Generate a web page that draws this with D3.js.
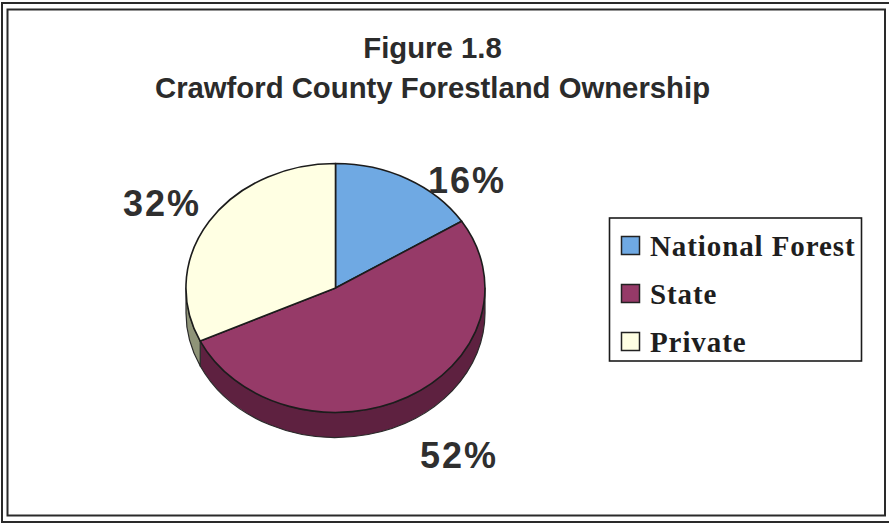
<!DOCTYPE html>
<html>
<head>
<meta charset="utf-8">
<script src="https://cdnjs.cloudflare.com/ajax/libs/d3/7.8.5/d3.min.js"></script>
<style>
  html, body { margin: 0; padding: 0; background: #fff; }
  svg { display: block; }
</style>
</head>
<body>
<svg id="chart" width="889" height="525"></svg>
<script>
const titleLines = ["Figure 1.8", "Crawford County Forestland Ownership"];
const categories = ["National Forest", "State", "Private"];
const shares = [16, 52, 32];
const topColors = ["#6fa9e3", "#963a68", "#ffffe3"];
const wallColors = ["#3d5c80", "#5e2140", "#8f9478"];

const width = 889, height = 525;
const cx = 335.5, cy = 288, rx = 149.5, ry = 124.5, depth = 25;

const svg = d3.select("#chart");

// Double-ruled page frame
const frame = svg.append("g").attr("fill", "none").attr("stroke", "#2a2a2a");
frame.append("rect").attr("x", 2).attr("y", 3).attr("width", width + 6).attr("height", 519).attr("stroke-width", 2);
frame.append("rect").attr("x", 7.5).attr("y", 9.5).attr("width", 877.5).attr("height", 506).attr("stroke-width", 2);

// Title
svg.append("g").selectAll("text").data(titleLines).join("text")
  .attr("x", 432.5)
  .attr("y", (d, i) => 58 + i * 39.5)
  .attr("text-anchor", "middle")
  .attr("font-family", "Liberation Sans")
  .attr("font-weight", "bold")
  .attr("font-size", 29.3)
  .attr("fill", "#2b2b2b")
  .text(d => d);

// Pie angles, clockwise from twelve o'clock
const arcs = d3.pie().sort(null)(shares);
const px = a => cx + rx * Math.sin(a);
const py = (a, dy = 0) => cy + dy - ry * Math.cos(a);

// Extruded wall: only the part of each slice facing the viewer
const pieChart = svg.append("g").attr("stroke-linejoin", "round");
function wallPath(d) {
  const a0 = Math.max(d.startAngle, Math.PI / 2);
  const a1 = Math.min(d.endAngle, 3 * Math.PI / 2);
  if (a1 <= a0) return null;
  const large = a1 - a0 > Math.PI ? 1 : 0;
  return `M${px(a0)},${py(a0)}` +
    `A${rx},${ry} 0 ${large} 1 ${px(a1)},${py(a1)}` +
    `L${px(a1)},${py(a1, depth)}` +
    `A${rx},${ry} 0 ${large} 0 ${px(a0)},${py(a0, depth)}Z`;
}
pieChart.append("g").selectAll("path").data(arcs).join("path")
  .attr("d", wallPath)
  .attr("fill", (d, i) => wallColors[i])
  .attr("stroke", "#2a2a2a")
  .attr("stroke-width", 1.2);

// Top face: a unit-radius pie squashed into an ellipse
const arcGen = d3.arc().innerRadius(0).outerRadius(1);
pieChart.append("g")
  .attr("transform", `translate(${cx},${cy}) scale(${rx},${ry})`)
  .selectAll("path").data(arcs).join("path")
  .attr("d", arcGen)
  .attr("fill", (d, i) => topColors[i])
  .attr("stroke", "#1c1c1c")
  .attr("stroke-width", 1.6)
  .attr("vector-effect", "non-scaling-stroke");

// Percentage labels sit around the pie
const labelAnchor = [[467, 193], [459, 468], [162, 216]];
svg.append("g").selectAll("text").data(shares).join("text")
  .attr("x", (d, i) => labelAnchor[i][0])
  .attr("y", (d, i) => labelAnchor[i][1])
  .attr("text-anchor", "middle")
  .attr("font-family", "Liberation Sans")
  .attr("font-weight", "bold")
  .attr("font-size", 36)
  .attr("letter-spacing", 2)
  .attr("fill", "#2f2f2f")
  .text(d => d + "%");

// Legend
const legend = svg.append("g");
legend.append("rect")
  .attr("x", 609.5).attr("y", 218).attr("width", 252).attr("height", 143)
  .attr("fill", "#fff").attr("stroke", "#1c1c1c").attr("stroke-width", 1.6);
const rowY = d3.scalePoint().domain(categories).range([245.5, 341.5]);
const rows = legend.selectAll("g").data(categories).join("g")
  .attr("transform", d => `translate(0,${rowY(d)})`);
rows.append("rect")
  .attr("x", 621.5).attr("y", -9).attr("width", 18).attr("height", 18)
  .attr("fill", (d, i) => topColors[i])
  .attr("stroke", "#222").attr("stroke-width", 1.5);
rows.append("text")
  .attr("x", 650).attr("y", 10)
  .attr("font-family", "Liberation Serif")
  .attr("font-weight", "bold")
  .attr("font-size", 29)
  .attr("letter-spacing", 0.9)
  .attr("fill", "#1e1e1e")
  .text(d => d);
</script>
</body>
</html>
